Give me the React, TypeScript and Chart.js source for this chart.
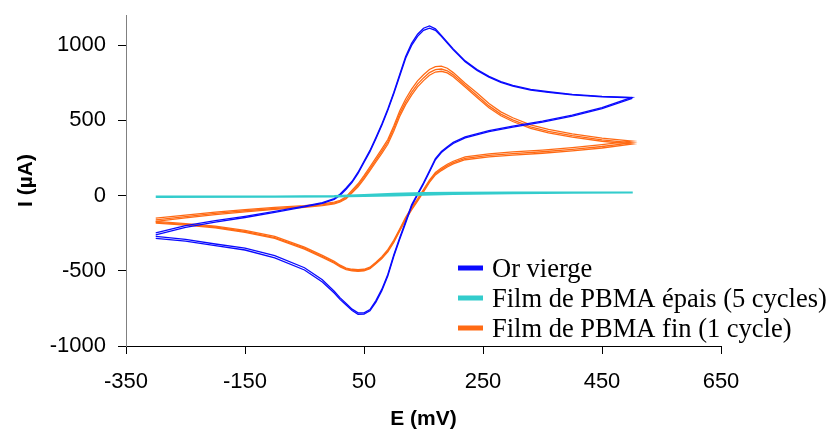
import React, { useEffect, useRef } from "react";
import { Chart, registerables } from "chart.js";

Chart.register(...registerables);

// Potential grids (mV)
const E_FWD = [-300, -250, -200, -150, -100, -50, -20, 0, 10, 20, 30, 40, 50, 60, 70, 80, 90, 100, 110, 120, 130, 140, 150, 160, 170, 180, 190, 200, 220, 240, 260, 280, 300, 330, 360, 400, 450, 500];
const E_REV = [500, 450, 400, 350, 300, 260, 220, 200, 190, 180, 170, 160, 150, 140, 130, 120, 110, 100, 90, 80, 70, 60, 50, 40, 30, 20, 10, 0, -20, -50, -100, -150, -200, -250, -300];

// Or vierge (µA)
const BLUE_FWD_1 = [-248, -200, -167, -138, -105, -70, -47, -20, 10, 50, 95, 155, 228, 300, 385, 475, 575, 685, 805, 925, 1012, 1072, 1112, 1127, 1108, 1065, 1020, 975, 895, 838, 792, 757, 732, 705, 690, 673, 659, 652];
const BLUE_REV_1 = [652, 585, 535, 495, 462, 432, 390, 353, 325, 293, 245, 165, 85, 12, -62, -172, -280, -395, -525, -622, -698, -758, -780, -780, -755, -718, -680, -636, -560, -480, -400, -350, -322, -292, -272];
const BLUE_FWD_2 = [-262, -212, -176, -146, -112, -76, -52, -26, 2, 42, 88, 147, 220, 292, 378, 468, 566, 676, 795, 912, 998, 1058, 1098, 1113, 1098, 1058, 1013, 968, 890, 832, 787, 752, 727, 700, 686, 669, 656, 650];
const BLUE_REV_2 = [645, 578, 528, 488, 455, 425, 383, 346, 318, 286, 238, 157, 77, 4, -71, -182, -290, -405, -535, -632, -708, -766, -788, -789, -764, -728, -692, -648, -574, -495, -414, -362, -333, -303, -284];

// Film de PBMA fin (µA)
const ORANGE_FWD_1 = [-150, -130, -110, -93, -79, -67, -56, -44, -32, -8, 35, 78, 132, 190, 250, 310, 372, 462, 562, 642, 707, 762, 803, 838, 857, 860, 846, 817, 747, 682, 612, 556, 517, 470, 440, 410, 382, 362];
const ORANGE_REV_1 = [362, 338, 318, 302, 290, 277, 257, 228, 208, 183, 153, 103, 40, -22, -80, -145, -222, -298, -360, -407, -443, -476, -490, -493, -490, -482, -463, -437, -398, -343, -272, -232, -203, -186, -172];
const ORANGE_FWD_2 = [-162, -140, -119, -101, -86, -73, -62, -50, -38, -15, 26, 68, 120, 177, 236, 295, 356, 445, 543, 622, 686, 741, 782, 817, 837, 841, 829, 802, 733, 665, 596, 541, 503, 457, 427, 398, 370, 350];
const ORANGE_REV_2 = [350, 326, 307, 291, 279, 267, 247, 219, 199, 174, 145, 95, 32, -30, -88, -153, -230, -306, -368, -414, -449, -482, -496, -499, -496, -488, -469, -444, -405, -350, -279, -239, -209, -192, -178];
const ORANGE_FWD_3 = [-172, -149, -127, -108, -92, -79, -67, -55, -43, -21, 18, 58, 109, 165, 223, 281, 341, 428, 525, 604, 668, 722, 764, 800, 821, 826, 815, 790, 722, 652, 584, 530, 492, 447, 417, 388, 361, 342];
const ORANGE_REV_3 = [342, 316, 297, 281, 269, 257, 238, 210, 190, 166, 137, 88, 25, -37, -95, -160, -236, -312, -374, -419, -454, -486, -500, -503, -500, -492, -474, -450, -411, -356, -285, -245, -214, -197, -183];

// Film de PBMA épais (µA)
const E_CYAN_FWD = [-300, -100, 0, 50, 100, 150, 200, 300, 500];
const CYAN_FWD = [-7, -6, -3, 3, 12, 17, 19, 20, 21];
const E_CYAN_REV = [500, 400, 300, 200, 150, 100, 50, 0, -100, -300];
const CYAN_REV = [20, 18, 16, 10, 5, 0, -3, -6, -8, -9];

const SERIES_NAMES = ["Or vierge", "Film de PBMA épais (5 cycles)", "Film de PBMA fin (1 cycle)"];
const SERIES_COLORS = ["#0a0aff", "#33cccc", "#ff6a14"];

const X_TICKS = [-350, -150, 50, 250, 450, 650];
const Y_TICKS = [-1000, -500, 0, 500, 1000];

function loop(eF: number[], iF: number[], eR: number[], iR: number[]) {
  const pts = eF.map((e, k) => ({ x: e, y: iF[k] }));
  return pts.concat(eR.map((e, k) => ({ x: e, y: iR[k] })));
}

const legendPlugin = {
  id: "customLegend",
  afterDraw(chart: any) {
    const ctx = chart.ctx;
    ctx.save();
    ctx.font = '26.5px "Liberation Serif"';
    ctx.textBaseline = "alphabetic";
    ctx.textAlign = "left";
    SERIES_NAMES.forEach((name, i) => {
      const y = 268 + i * 30;
      ctx.fillStyle = SERIES_COLORS[i];
      ctx.fillRect(458, y - 2.5, 25, 5);
      ctx.fillStyle = "#000";
      ctx.fillText(name, 492, y + 9);
    });
    ctx.restore();
  },
};

export default function App() {
  const ref = useRef<HTMLCanvasElement>(null);
  useEffect(() => {
    if (!ref.current) return;
    const mk = (data: any[], color: string, w: number) => ({
      data,
      borderColor: color,
      backgroundColor: color,
      borderWidth: w,
      pointRadius: 0,
      showLine: true,
      tension: 0,
      fill: false,
    });
    const chart = new Chart(ref.current, {
      type: "scatter",
      data: {
        datasets: [
          mk(loop(E_CYAN_FWD, CYAN_FWD, E_CYAN_REV, CYAN_REV), SERIES_COLORS[1], 2),
          mk(loop(E_FWD, BLUE_FWD_1, E_REV, BLUE_REV_1), SERIES_COLORS[0], 1.3),
          mk(loop(E_FWD, BLUE_FWD_2, E_REV, BLUE_REV_2), SERIES_COLORS[0], 1.3),
          mk(loop(E_FWD, ORANGE_FWD_1, E_REV, ORANGE_REV_1), SERIES_COLORS[2], 1.3),
          mk(loop(E_FWD, ORANGE_FWD_2, E_REV, ORANGE_REV_2), SERIES_COLORS[2], 1.3),
          mk(loop(E_FWD, ORANGE_FWD_3, E_REV, ORANGE_REV_3), SERIES_COLORS[2], 1.3),
        ],
      },
      options: {
        responsive: false,
        animation: false,
        layout: { padding: { left: 0, top: 15, right: 109, bottom: 0 } },
        plugins: { legend: { display: false }, tooltip: { enabled: false } },
        scales: {
          x: {
            type: "linear",
            min: -350,
            max: 650,
            afterBuildTicks: (s: any) => { s.ticks = X_TICKS.map((v) => ({ value: v })); },
            afterFit: (s: any) => { s.height = 86; s.paddingLeft = 0; s.paddingRight = 0; s.paddingTop = 0; s.paddingBottom = 0; },
            border: { display: true, color: "#000", width: 1 },
            grid: { drawOnChartArea: false, drawTicks: true, tickLength: 8, color: "#000" },
            ticks: { color: "#000", padding: 15, maxRotation: 0, callback: (v: any) => String(v), font: { family: '"Liberation Sans", Arial', size: 22 } },
            title: { display: true, text: "E (mV)", color: "#000", padding: { top: 2, bottom: 0 }, font: { family: '"Liberation Sans", Arial', size: 21, weight: "bold" } },
          },
          y: {
            type: "linear",
            min: -1000,
            max: 1200,
            afterBuildTicks: (s: any) => { s.ticks = Y_TICKS.map((v) => ({ value: v })); },
            afterFit: (s: any) => { s.width = 126; s.paddingTop = 0; s.paddingBottom = 0; s.paddingLeft = 0; s.paddingRight = 0; },
            border: { display: true, color: "#808080", width: 1 },
            grid: { drawOnChartArea: false, drawTicks: true, tickLength: 8, color: "#000" },
            ticks: { color: "#000", padding: 12, callback: (v: any) => String(v), font: { family: '"Liberation Sans", Arial', size: 22 } },
            title: { display: true, text: "I (µA)", color: "#000", padding: { top: 14, bottom: 0 }, font: { family: '"Liberation Sans", Arial', size: 21, weight: "bold" } },
          },
        },
      },
      plugins: [legendPlugin],
    });
    return () => chart.destroy();
  }, []);
  return (
    <div style={{ position: "fixed", left: 0, top: 0, width: 830, height: 432, background: "#fff" }}>
      <canvas ref={ref} width={830} height={432} />
    </div>
  );
}
